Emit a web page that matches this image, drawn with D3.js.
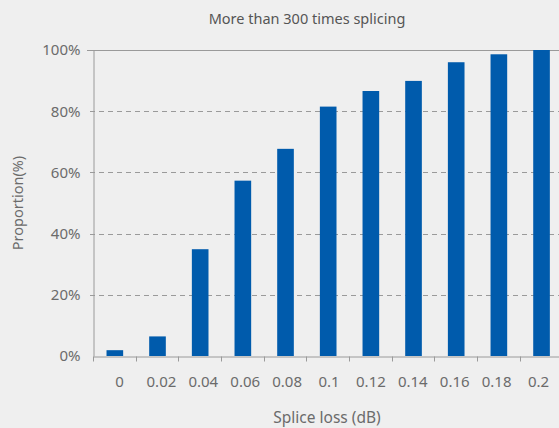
<!DOCTYPE html>
<html><head><meta charset="utf-8">
<script src="https://cdn.jsdelivr.net/npm/d3@7"></script>
<style>
html,body{margin:0;padding:0;background:#efefef;}
svg{display:block;font-family:"Noto Sans",sans-serif;}
</style></head>
<body><svg id="c" width="559" height="428"></svg>
<script>
const categories = ["0","0.02","0.04","0.06","0.08","0.1","0.12","0.14","0.16","0.18","0.2"];
const values = [1.9, 6.4, 34.9, 57.3, 67.7, 81.5, 86.6, 89.9, 96.0, 98.6, 100];
const yTicks = [0, 20, 40, 60, 80, 100];
const title = "More than 300 times splicing";
const xTitle = "Splice loss (dB)";
const yTitle = "Proportion(%)";

(function(){
const svg = d3.select("#c");
const mLeft = 93, mTop = 50, mBottom = 356, step = 42.67;
const x = d3.scaleBand().domain(categories).range([mLeft, mLeft + step*categories.length]).padding(0);
const xl = d3.scalePoint().domain(categories).range([119, 538]);
const y = d3.scaleLinear().domain([0, 100]).range([mBottom, mTop]);
const textCol = "#6b6b6b", lineCol = "#9a9a9a";

svg.append("rect").attr("width",559).attr("height",428).attr("fill","#efefef");

// gridlines
svg.append("g").selectAll("line").data(yTicks.filter(d => d > 0 && d < 100)).join("line")
  .attr("x1", mLeft - 3).attr("x2", 559)
  .attr("y1", d => Math.round(y(d)) + 0.5).attr("y2", d => Math.round(y(d)) + 0.5)
  .attr("stroke", lineCol).attr("stroke-dasharray", "5,4").attr("stroke-width", 1);
// top solid line
svg.append("line").attr("x1", mLeft - 6).attr("x2", 559)
  .attr("y1", Math.round(y(100)) + 0.5).attr("y2", Math.round(y(100)) + 0.5)
  .attr("stroke", lineCol).attr("stroke-width", 1);

// bars
const bw = x.bandwidth() * 0.39;
svg.append("g").selectAll("rect").data(values).join("rect")
  .attr("x", (d, i) => x(categories[i]) + x.bandwidth()/2 - bw/2 + 0.5)
  .attr("width", bw)
  .attr("y", d => y(d))
  .attr("height", d => y(0) - y(d))
  .attr("fill", "#005bac");

// y axis
const ya = svg.append("g").attr("transform", `translate(${mLeft + 0.5},0)`)
  .call(d3.axisLeft(y).tickValues(yTicks).tickFormat(d => d + "%").tickSize(0).tickPadding(13));
ya.select(".domain").attr("stroke", lineCol);
ya.selectAll("text").attr("fill", textCol).style("font-size", "15px").style("font-family", '"Noto Sans",sans-serif');

// x axis (line + separators from band scale)
const xa = svg.append("g").attr("transform", `translate(0,${mBottom + 0.5})`)
  .call(d3.axisBottom(x).tickSize(0).tickFormat(""));
xa.select(".domain").attr("stroke", lineCol);
xa.selectAll(".sep").data(categories).join("line").attr("class","sep")
  .attr("x1", d => Math.round(x(d)) + 0.5).attr("x2", d => Math.round(x(d)) + 0.5)
  .attr("y1", 0).attr("y2", 5).attr("stroke", lineCol);
// x labels
const xla = svg.append("g").attr("transform", `translate(0,${mBottom + 0.5})`)
  .call(d3.axisBottom(xl).tickSize(0).tickPadding(20));
xla.select(".domain").remove();
xla.selectAll("text").attr("fill", textCol).style("font-size", "15px").style("font-family", '"Noto Sans",sans-serif');

// titles
svg.append("text").attr("x", 307).attr("y", 24).attr("text-anchor", "middle")
  .attr("fill", "#555").style("font-size", "14.5px").text(title);
svg.append("text").attr("x", 327).attr("y", 423).attr("text-anchor", "middle")
  .attr("fill", textCol).style("font-size", "15.5px").text(xTitle);
svg.append("text").attr("transform", "translate(23,203) rotate(-90)").attr("text-anchor", "middle")
  .attr("fill", textCol).style("font-size", "14.5px").text(yTitle);
})();
</script></body></html>
